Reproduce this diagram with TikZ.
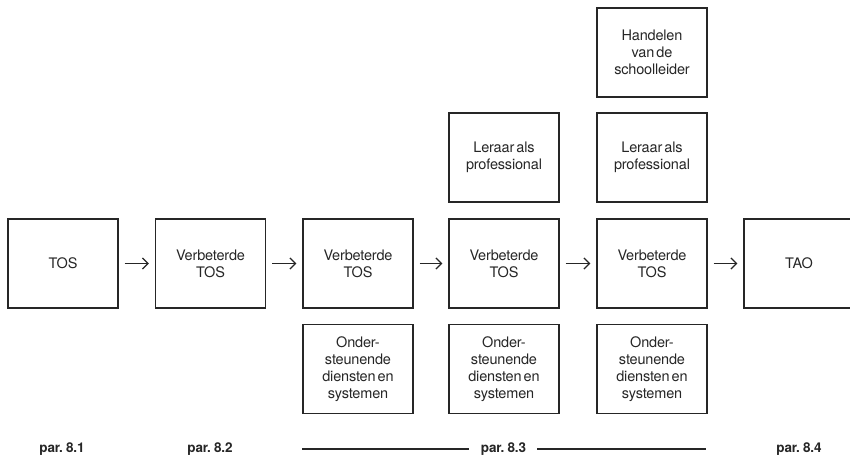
\documentclass[tikz,border=0pt]{standalone}
\usepackage{fontspec}
\setmainfont{TeX Gyre Heros}[WordSpace=0.55, LetterSpace=-1.2]
\usetikzlibrary{arrows.meta}
\definecolor{ink}{HTML}{262626}
\tikzset{
  box/.style={draw=ink, line width=1.3pt, minimum width=110pt, minimum height=89pt,
    inner sep=0pt, align=center, text=ink,
    font=\fontsize{14.5}{17}\selectfont},
  flow/.style={draw=ink, line width=1.3pt, -{Straight Barb[length=5.5pt,width=11pt,line width=1.3pt]},
    shorten <=6pt, shorten >=6pt},
  parlabel/.style={text=ink, inner sep=0pt, font=\fontsize{13.5}{15}\selectfont\bfseries},
  rule/.style={draw=ink, line width=1.3pt}
}
\begin{document}
\begin{tikzpicture}[x=1pt, y=-1pt]
  \useasboundingbox (0,0) rectangle (850,458);
  \clip (0,0) rectangle (850,458);

  % main chain
  \node[box] (tos)  at (63,263.5)  {TOS};
  \node[box] (vt1)  at (210.5,263.5) {Verbeterde\\TOS};
  \node[box] (vt2)  at (358,263.5) {Verbeterde\\TOS};
  \node[box] (vt3)  at (504,263.5) {Verbeterde\\TOS};
  \node[box] (vt4)  at (652,263.5) {Verbeterde\\TOS};
  \node[box] (tao)  at (799,263.5) {TAO};

  % supporting boxes below
  \node[box] (od1) at (358,369) {Onder-\\steunende\\diensten en\\systemen};
  \node[box] (od2) at (504,369) {Onder-\\steunende\\diensten en\\systemen};
  \node[box] (od3) at (652,369) {Onder-\\steunende\\diensten en\\systemen};

  % boxes above
  \node[box] (lp1) at (504,157.5) {Leraar als\\professional};
  \node[box] (lp2) at (652,157.5) {Leraar als\\professional};
  \node[box] (hs)  at (652,52.5)  {Handelen\\van de\\schoolleider};

  % arrows
  \draw[flow] (tos) -- (vt1);
  \draw[flow] (vt1) -- (vt2);
  \draw[flow] (vt2) -- (vt3);
  \draw[flow] (vt3) -- (vt4);
  \draw[flow] (vt4) -- (tao);

  % paragraph labels
  \node[parlabel] (p1) at (62,449) {par. 8.1};
  \node[parlabel] (p2) at (210,449) {par. 8.2};
  \node[parlabel] (p3) at (503.5,449) {par. 8.3};
  \node[parlabel] (p4) at (799,449) {par. 8.4};
  \coordinate (rl) at (302,449);
  \coordinate (rr) at (706,449);
  \draw[rule] (rl) -- ([xshift=-12pt]p3.west);
  \draw[rule] ([xshift=11pt]p3.east) -- (rr);
\end{tikzpicture}
\end{document}
